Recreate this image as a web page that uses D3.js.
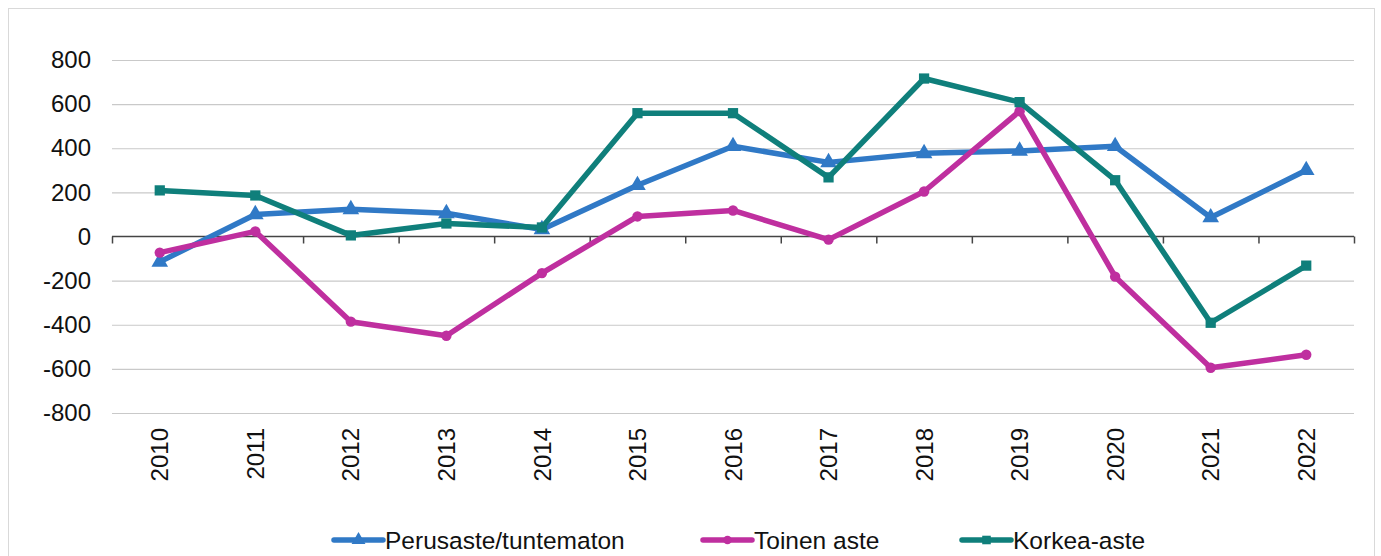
<!DOCTYPE html>
<html><head><meta charset="utf-8">
<script src="https://cdn.jsdelivr.net/npm/d3@7"></script>
<style>body{margin:0;background:#fff}svg{display:block}text{font-family:"Liberation Sans",Arial,sans-serif;fill:#111}</style>
</head><body><svg id="c" width="1381" height="556"></svg>
<script>
const years = ["2010","2011","2012","2013","2014","2015","2016","2017","2018","2019","2020","2021","2022"];
const perusaste = [-115,100,123,105,32,232,409,336,377,388,409,86,300];
const toinen = [-73,23,-386,-450,-166,91,118,-14,204,568,-182,-595,-536];
const korkea = [209,186,5,59,41,559,559,268,716,609,255,-391,-132];
const yTicks = [-800,-600,-400,-200,0,200,400,600,800];
const seriesNames = ["Perusaste/tuntematon","Toinen aste","Korkea-aste"];
const colors = ["#3079c6","#bf2f9f","#0f7f7b"];
const symbols = [d3.symbolTriangle, d3.symbolCircle, d3.symbolSquare];
const symSizes = [120, 85, 105];

const svg = d3.select("#c");
svg.append("rect").attr("x",8.5).attr("y",8.5).attr("width",1366).attr("height",600)
  .attr("fill","#fff").attr("stroke","#d9d9d9");

const x = d3.scaleBand().domain(years).range([112,1354]);
const y = d3.scaleLinear().domain([-800,800]).range([413,60]);

// gridlines
const grid = svg.append("g").attr("transform","translate(112,0)")
  .call(d3.axisLeft(y).tickValues(yTicks.filter(v=>v!==0)).tickSize(-(1354-112)).tickFormat(""));
grid.select(".domain").remove();
grid.selectAll("line").attr("stroke","#c9c9c9").attr("stroke-width",1.2);

// y labels
const ya = svg.append("g").attr("transform","translate(112,0)")
  .call(d3.axisLeft(y).tickValues(yTicks).tickSize(0).tickPadding(21).tickFormat(d=>String(d)));
ya.select(".domain").remove();
ya.selectAll("text").style("font-size","24px").attr("fill","#111");

// zero axis with ticks at band boundaries
const xa = svg.append("g").attr("transform",`translate(0,${y(0)})`)
  .call(d3.axisBottom(d3.scaleLinear().domain([0,years.length]).range([112,1354]))
    .tickValues(d3.range(0,years.length+1)).tickSize(7).tickFormat(""));
xa.select(".domain").attr("stroke","#444").attr("stroke-width",1.5).attr("d","M112,0H1354");
xa.selectAll("line").attr("stroke","#444").attr("stroke-width",1.5);

// year labels
svg.append("g").selectAll("text").data(years).join("text")
  .attr("transform",d=>`translate(${x(d)+x.bandwidth()/2},428) rotate(-90)`)
  .attr("text-anchor","end").attr("dy","0.36em")
  .style("font-size","24px").text(d=>d);

const data = [perusaste, toinen, korkea];
const line = d3.line().x((d,i)=>x(years[i])+x.bandwidth()/2).y(d=>y(d));
data.forEach((vals,k)=>{
  const g = svg.append("g");
  g.append("path").datum(vals).attr("d",line).attr("fill","none")
    .attr("stroke",colors[k]).attr("stroke-width",5.5).attr("stroke-linejoin","round");
  g.selectAll("path.m").data(vals).join("path").attr("class","m")
    .attr("transform",(d,i)=>`translate(${x(years[i])+x.bandwidth()/2},${y(d)})`)
    .attr("d",d3.symbol(symbols[k],symSizes[k])).attr("fill",colors[k]);
});

// legend
const legX = [334,703,962];
seriesNames.forEach((n,k)=>{
  const g = svg.append("g").attr("transform",`translate(${legX[k]},540)`);
  g.append("line").attr("x1",0).attr("x2",49).attr("stroke",colors[k]).attr("stroke-width",5.5).attr("stroke-linecap","round");
  g.append("path").attr("transform","translate(24.5,0)").attr("d",d3.symbol(symbols[k],symSizes[k]*0.7)).attr("fill",colors[k]);
  g.append("text").attr("x",51).attr("dy","0.35em").style("font-size","24.5px").text(n);
});
</script></body></html>
